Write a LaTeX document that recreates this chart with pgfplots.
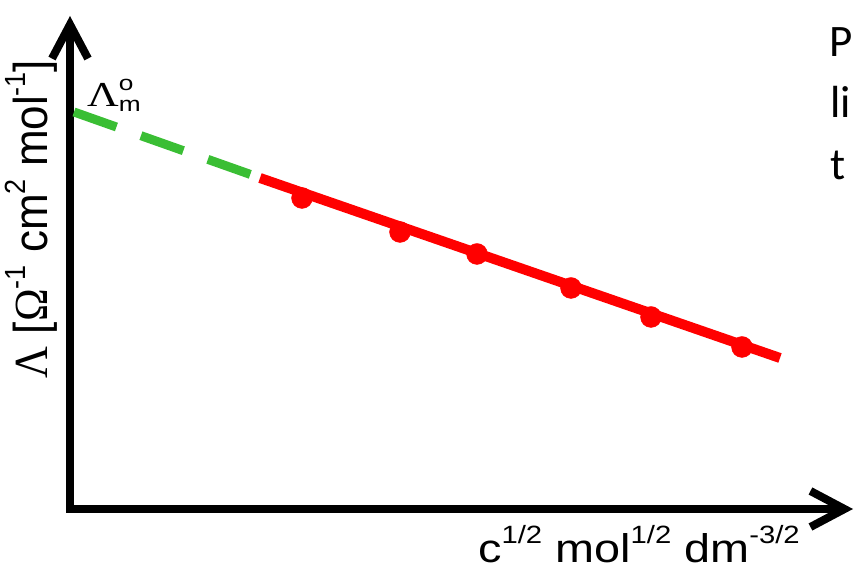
\documentclass[border=0pt]{standalone}
\usepackage{fontspec}
\setmainfont{Liberation Sans}
\newfontfamily\seriffont{Liberation Serif}
\newfontfamily\califont{Carlito}
\usepackage{pgfplots}
\pgfplotsset{compat=1.18}
\usetikzlibrary{arrows.meta}
\definecolor{lgreen}{RGB}{58,190,52}
\definecolor{lred}{RGB}{255,0,0}
\newcommand\sups[1]{\raisebox{19pt}{\fontsize{25}{26}\selectfont #1}}
\newcommand\supy[1]{\raisebox{20pt}{\fontsize{27}{28}\selectfont #1}}
\begin{document}
\begin{tikzpicture}
\path[use as bounding box] (-70pt,-68pt) rectangle (784pt,509pt);
\begin{axis}[
  scale only axis, width=783pt, height=493pt,
  xmin=0, xmax=783, ymin=0, ymax=493,
  axis lines=left, ticks=none, clip=false,
  axis line style={line width=8pt, line cap=rect, -{Straight Barb[length=34pt 0 0, width=36pt 0 0]}},
]
\addplot[lgreen, line width=9pt, dash pattern=on 45pt off 26pt] coordinates {(4,397) (182,334)};
\addplot[lred, line width=10pt] coordinates {(190,331) (710,151)};
\addplot[lred, only marks, mark=*, mark size=10.5pt] coordinates {(232,311) (330,277) (407,255) (501,221) (581,192) (672,162)};
\node[anchor=center] at (axis cs:-39,290) {\scalebox{1.08}[1]{\rotatebox{90}{\fontsize{44}{46}\selectfont {\seriffont Λ} [{\seriffont Ω}\supy{-1} cm\supy{2} mol\supy{-1}]}}};
\node[anchor=base west, inner sep=0pt] at (axis cs:17,402) {\scalebox{1.25}[1]{\fontsize{35}{37}\selectfont\seriffont Λ}\scalebox{1.25}[1]{\rlap{\raisebox{16pt}{\fontsize{21}{21}\selectfont o}}\raisebox{-5pt}{\fontsize{21}{21}\selectfont m}}};
\node[anchor=base west, inner sep=0pt] at (axis cs:408,-54) {\scalebox{1.17}[1]{\fontsize{40}{42}\selectfont c\sups{1/2} mol\sups{1/2} dm\sups{-3/2}}};
\node[anchor=base west, inner sep=0pt] at (axis cs:759,452) {\fontsize{45}{45}\selectfont\califont P};
\node[anchor=base west, inner sep=0pt] at (axis cs:760,391) {\fontsize{45}{45}\selectfont\califont li};
\node[anchor=base west, inner sep=0pt] at (axis cs:760,329) {\fontsize{45}{45}\selectfont\califont t};
\end{axis}
\end{tikzpicture}
\end{document}
